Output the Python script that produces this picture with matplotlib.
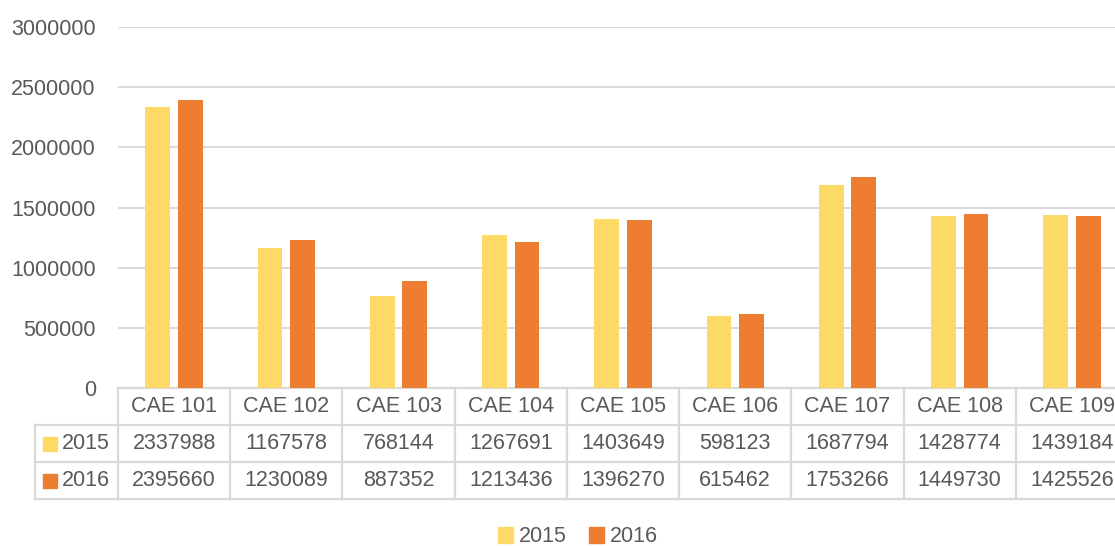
import matplotlib.pyplot as plt
import numpy as np
from matplotlib.transforms import blended_transform_factory
from matplotlib.patches import Patch

# data
cats = ['CAE 101', 'CAE 102', 'CAE 103', 'CAE 104', 'CAE 105',
        'CAE 106', 'CAE 107', 'CAE 108', 'CAE 109']
v2015 = [2337988, 1167578, 768144, 1267691, 1403649, 598123, 1687794, 1428774, 1439184]
v2016 = [2395660, 1230089, 887352, 1213436, 1396270, 615462, 1753266, 1449730, 1425526]
series = ['2015', '2016']
colors = ['#FFD966', '#ED7D31']

W, H = 1115, 546
txt = '#595959'
grid = '#D9D9D9'
plt.rcParams['font.family'] = ['Liberation Sans', 'DejaVu Sans']

fig = plt.figure(figsize=(W / 100, H / 100), dpi=100, facecolor='white')

def fy(py):
    return 1 - py / H

# plot area runs past the right edge, like the original
ax = fig.add_axes([118 / W, fy(388), (1128 - 118) / W, (388 - 27) / H])
x = np.arange(len(cats))
wid = 0.22
ax.bar(x - 0.145, v2015, wid, color=colors[0], linewidth=0, zorder=3)
ax.bar(x + 0.145, v2016, wid, color=colors[1], linewidth=0, zorder=3)
ax.set_xlim(-0.5, len(cats) - 0.5)
ax.set_ylim(0, 3000000)
ax.set_yticks(np.arange(0, 3000001, 500000))
ax.set_yticklabels([str(v) for v in range(0, 3000001, 500000)], fontsize=15.5, color=txt)
ax.yaxis.grid(True, color=grid, linewidth=1.4, zorder=0)
ax.tick_params(length=0, which='both', pad=16)
ax.set_xticks([])
for s in ['top', 'right', 'left', 'bottom']:
    ax.spines[s].set_visible(False)

# data table under the axis
tr = blended_transform_factory(ax.transData, fig.transFigure)
rows = [388, 425, 462, 499]
lkw = dict(color=grid, linewidth=1.6, transform=tr, clip_on=False)
for i in range(len(cats) + 1):
    ax.plot([i - 0.5, i - 0.5], [fy(388), fy(499)], **lkw)
ax.plot([-0.5, len(cats) - 0.5], [fy(388), fy(388)], **lkw)
fkw = dict(color=grid, linewidth=1.6, transform=fig.transFigure, clip_on=False)
for r in rows[1:]:
    fig.add_artist(plt.Line2D([35 / W, 1128 / W], [fy(r), fy(r)], **fkw))
fig.add_artist(plt.Line2D([35 / W, 35 / W], [fy(425), fy(499)], **fkw))

for i, c in enumerate(cats):
    ax.text(i, fy(406.5), c, transform=tr, ha='center', va='center', fontsize=15.5, color=txt)
    ax.text(i, fy(443.5), str(v2015[i]), transform=tr, ha='center', va='center', fontsize=15.5, color=txt)
    ax.text(i, fy(480.5), str(v2016[i]), transform=tr, ha='center', va='center', fontsize=15.5, color=txt)

for j, (s, col) in enumerate(zip(series, colors)):
    yc = 443.5 + 37 * j
    fig.add_artist(plt.Rectangle((43 / W, fy(yc + 7)), 14 / W, 14 / H, color=col,
                                 transform=fig.transFigure))
    fig.text(62 / W, fy(yc), s, ha='left', va='center', fontsize=15.5, color=txt)

# legend
handles = [Patch(color=c, label=s) for s, c in zip(series, colors)]
fig.legend(handles=handles, loc='center', bbox_to_anchor=(578 / W, fy(537)), ncol=2,
           frameon=False, fontsize=15.5, labelcolor=txt, handlelength=0.7,
           handleheight=0.7, handletextpad=0.3, columnspacing=1.0)

fig.savefig('out.png', dpi=100, facecolor='white')
